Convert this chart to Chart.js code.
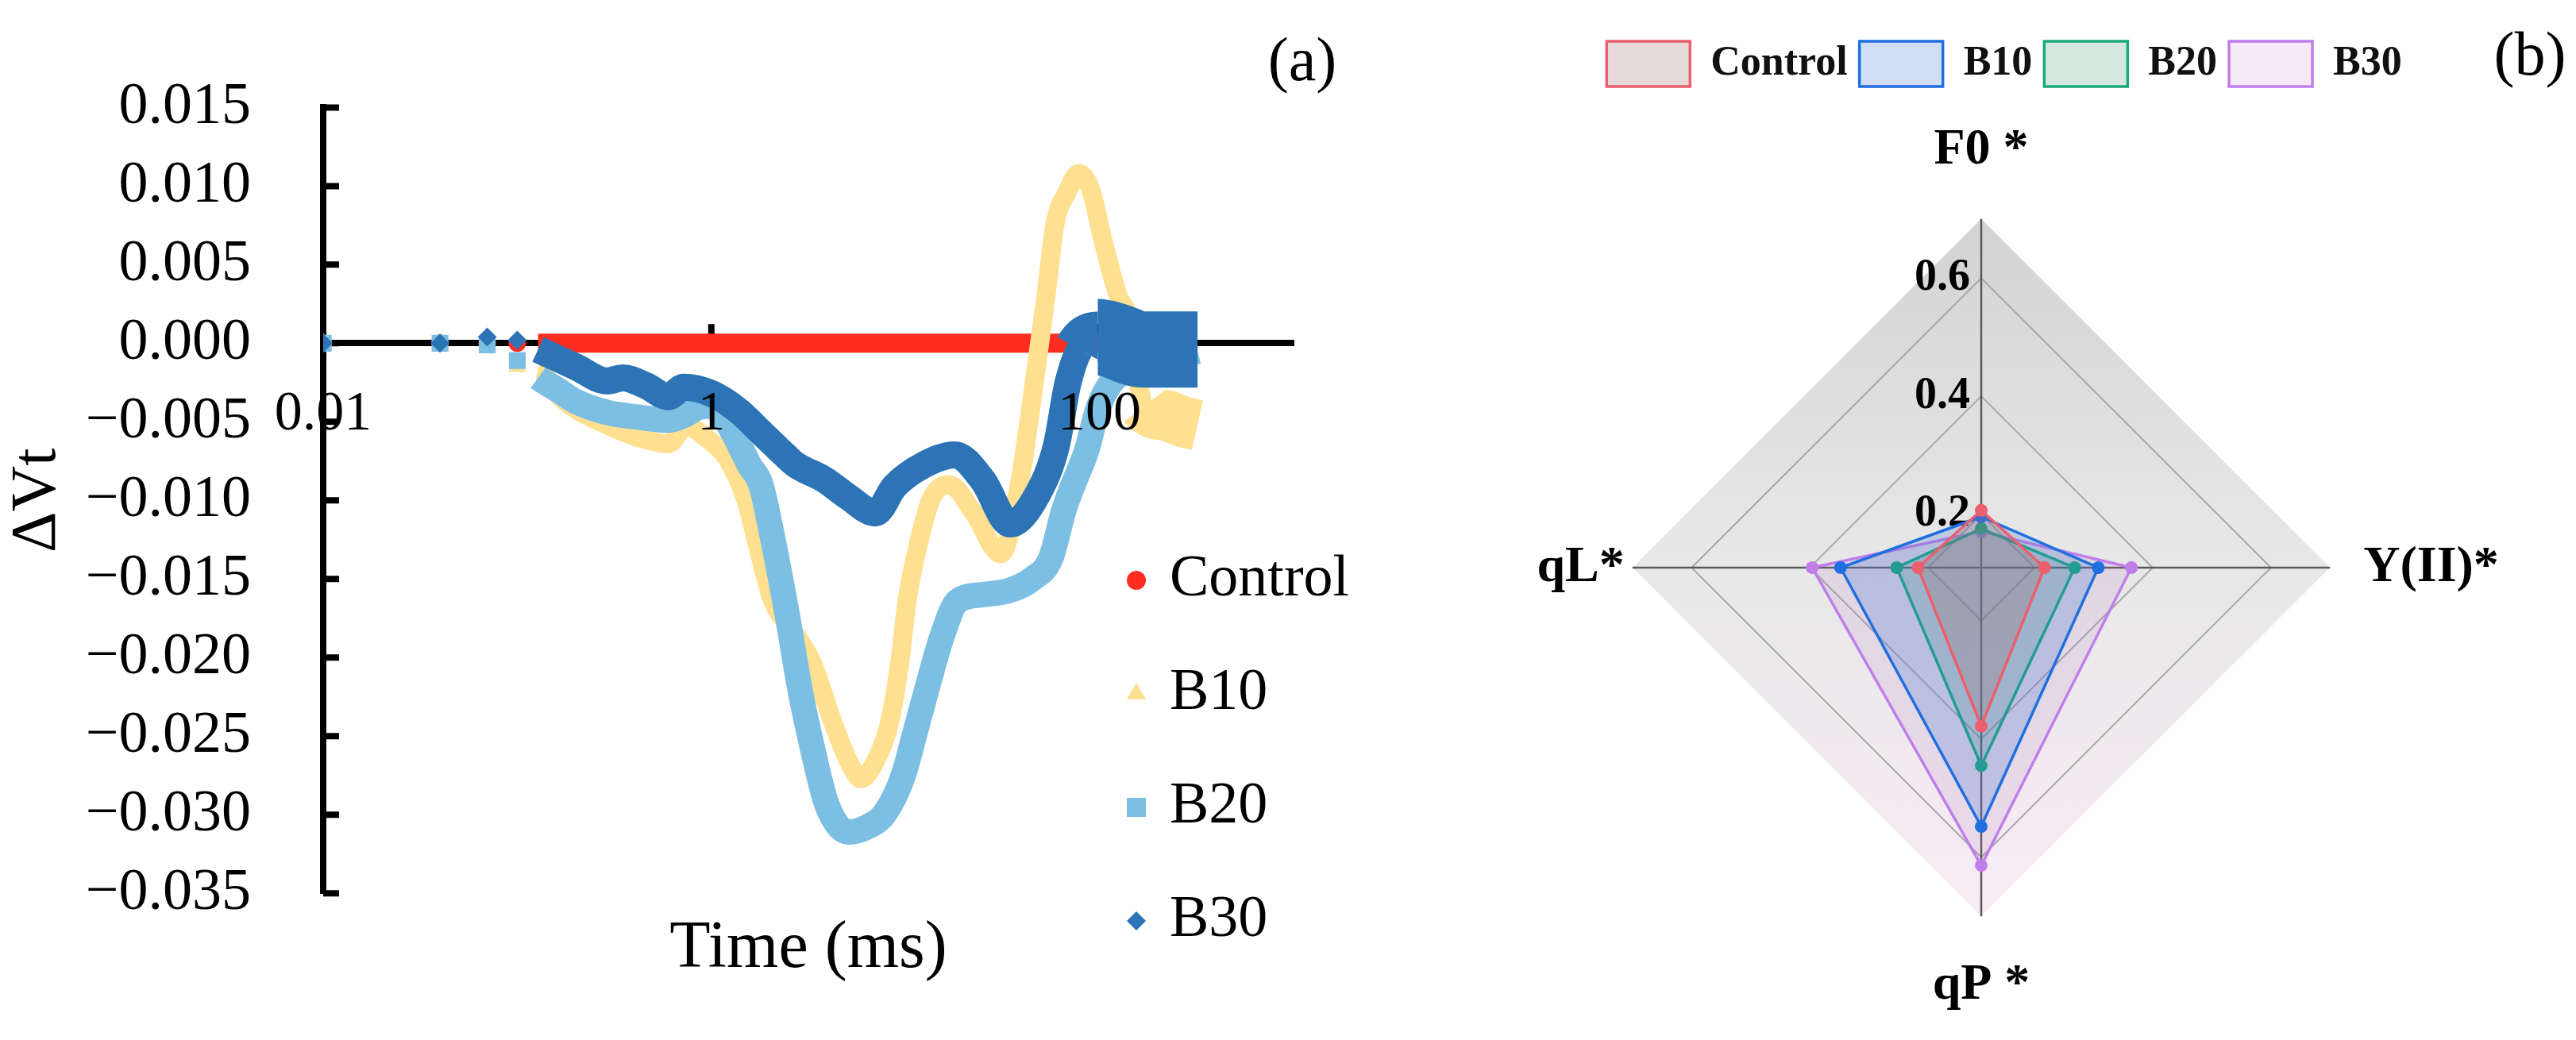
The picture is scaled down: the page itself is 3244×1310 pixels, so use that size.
<!DOCTYPE html>
<html>
<head>
<meta charset="utf-8">
<script src="https://cdn.jsdelivr.net/npm/chart.js"></script>
<style>
  html, body { margin: 0; padding: 0; background: #fff; overflow: hidden; }
  #wrap { position: relative; width: 3244px; height: 1310px; }
  canvas { position: absolute; top: 0; }
  #chartA { left: 0; }
  #chartB { left: 1804px; }
  .panel { position: absolute; font-family: 'Liberation Serif', 'Times New Roman', serif; font-size: 78px; line-height: 1; transform: translate(-50%, -50%); }
</style>
</head>
<body>
<div id="wrap">
  <canvas id="chartA" width="1760" height="1310"></canvas>
  <canvas id="chartB" width="1440" height="1310"></canvas>
  <div class="panel" style="left:1640px; top:75px;">(a)</div>
  <div class="panel" style="left:3186px; top:68px;">(b)</div>
</div>
<script>
Chart.defaults.font.family = "'Liberation Serif', 'Times New Roman', serif";
Chart.defaults.color = '#000';

// ---- (a) delta Vt curves, time in ms ----
const seriesNames = ['Control', 'B10', 'B20', 'B30'];

const controlTime = [0.01, 0.04, 0.07, 0.1, 0.128, 0.2, 0.5, 1, 2, 5, 10, 20, 50, 100, 200, 320];
const controlVt   = [0, 0, 0, 0, 0, 0, 0, 0, 0, 0, 0, 0, 0, 0, 0, 0];

const b10Time = [0.01, 0.04, 0.07, 0.1, 0.128, 0.163, 0.2, 0.29, 0.42, 0.6, 0.74, 0.98, 1.2, 1.5, 1.7, 2.07, 2.6,
                 3.3, 4.25, 5.1, 5.9, 7.0, 8.4, 9.4, 10.2, 11.7, 13.6, 16.8, 22.5, 31, 38.5, 46, 53, 59, 68, 78, 90,
                 104, 125, 140, 170, 220, 270, 320];
const b10Vt   = [0, 0, 0, -0.0015, -0.0016, -0.0033, -0.0042, -0.0052, -0.0060, -0.0064, -0.0053, -0.0062, -0.0073,
                 -0.0099, -0.0125, -0.0164, -0.0182, -0.0203, -0.0242, -0.0266, -0.0277, -0.0266, -0.0238, -0.0201,
                 -0.0164, -0.0127, -0.0099, -0.0090, -0.0108, -0.0134, -0.0091, -0.0026, 0.0030, 0.0076, 0.0096,
                 0.0108, 0.0098, 0.0066, 0.0030, 0.0018, -0.0040, -0.0046, -0.0050, -0.0052];

const b20Time = [0.01, 0.04, 0.07, 0.1, 0.128, 0.163, 0.2, 0.29, 0.42, 0.6, 0.72, 0.85, 1.0, 1.2, 1.58, 1.8, 2.07,
                 2.47, 2.86, 3.31, 3.95, 5.1, 6.3, 7.85, 9.75, 11.2, 12.9, 15.5, 18.6, 25, 35, 45, 56, 66, 76, 86,
                 98, 115, 150, 200, 260, 320];
const b20Vt   = [0, 0, -0.0001, -0.0011, -0.0022, -0.0030, -0.0037, -0.0044, -0.0047, -0.0049, -0.0046, -0.0041,
                 -0.0040, -0.0050, -0.0078, -0.0090, -0.0124, -0.0174, -0.0220, -0.0257, -0.0294, -0.0311, -0.0308,
                 -0.0299, -0.0275, -0.0248, -0.0220, -0.0186, -0.0164, -0.0160, -0.0157, -0.0150, -0.0137, -0.0105,
                 -0.0085, -0.0068, -0.0042, -0.0025, -0.0016, -0.0012, -0.0008, -0.0005];

const b30Time = [0.01, 0.04, 0.07, 0.1, 0.128, 0.163, 0.2, 0.29, 0.35, 0.46, 0.6, 0.72, 1.0, 1.38, 1.78, 2.43, 2.7,
                 3.85, 5.1, 7.0, 8.8, 12.2, 18, 25, 34.6, 48, 60, 68.6, 79, 98, 117, 168, 240, 320];
const b30Vt   = [0, 0, 0.0004, 0.0002, -0.0004, -0.0010, -0.0015, -0.0024, -0.0022, -0.0027, -0.0034, -0.0028,
                 -0.0032, -0.0043, -0.0056, -0.0072, -0.0077, -0.0087, -0.0098, -0.0108, -0.0091, -0.0078, -0.0071,
                 -0.0087, -0.0115, -0.0096, -0.0065, -0.0026, -0.0004, 0.0004, 0.0002, -0.0004, -0.0004, -0.0004];

const xTicks = [0.01, 1, 100];
const yTicks = [-0.035, -0.03, -0.025, -0.02, -0.015, -0.01, -0.005, 0, 0.005, 0.01, 0.015];

// ---- (b) radar ----
const radarAxes    = ['F0 *', 'Y(II)*', 'qP *', 'qL*'];
const radarControl = [0.207, 0.217, 0.378, 0.217];
const radarB10     = [0.196, 0.308, 0.548, 0.348];
const radarB20     = [0.176, 0.268, 0.445, 0.253];
const radarB30     = [0.171, 0.364, 0.614, 0.396];
const radarTicks      = [0.11, 0.2, 0.4, 0.6, 0.7];
const radarTickLabels = [0.2, 0.4, 0.6];

const toPoints = (t, v) => t.map((x, i) => ({ x: x, y: v[i] }));

// first few readings are far apart, they show as single markers
const earlyEnd = 0.11;
const early = c => c.raw && c.raw.x < earlyEnd;
const hideEarly = c => (c.p0.parsed.x < earlyEnd ? 'rgba(0,0,0,0)' : undefined);

// late part of the noisy traces is drawn as a wider band
function curve(label, t, v, color, style, radius, width, order, wide) {
  return {
    label: label,
    data: toPoints(t, v),
    order: order,
    borderColor: color,
    backgroundColor: color,
    borderWidth: width,
    borderCapStyle: 'butt',
    borderJoinStyle: 'round',
    cubicInterpolationMode: 'monotone',
    pointStyle: style,
    pointRadius: c => (early(c) ? radius : 0),
    pointBorderWidth: 0,
    segment: {
      borderColor: hideEarly,
      borderWidth: c => {
        if (!wide) return width;
        const x = c.p0.parsed.x;
        let w = width;
        wide.forEach(step => { if (x >= step[0]) w = step[1]; });
        return w;
      }
    }
  };
}

function drawMarker(ctx, style, color, x, y, r) {
  ctx.fillStyle = color;
  ctx.beginPath();
  if (style === 'circle') {
    ctx.arc(x, y, r, 0, Math.PI * 2);
  } else if (style === 'triangle') {
    ctx.moveTo(x, y - r);
    ctx.lineTo(x + r * 0.866, y + r / 2);
    ctx.lineTo(x - r * 0.866, y + r / 2);
  } else if (style === 'rect') {
    ctx.rect(x - r, y - r, 2 * r, 2 * r);
  } else {
    ctx.moveTo(x, y - r);
    ctx.lineTo(x + r, y);
    ctx.lineTo(x, y + r);
    ctx.lineTo(x - r, y);
  }
  ctx.closePath();
  ctx.fill();
}

// excel style tick marks pointing into the plot
const inwardTicks = {
  id: 'inwardTicks',
  beforeDatasetsDraw(chart) {
    const { ctx, scales } = chart;
    const x = scales.xLabels, y = scales.y;
    const y0 = y.getPixelForValue(0);
    ctx.save();
    ctx.strokeStyle = '#000';
    ctx.lineWidth = 8;
    ctx.beginPath();
    y.ticks.forEach(t => {
      const py = y.getPixelForValue(t.value);
      ctx.moveTo(chart.chartArea.left, py);
      ctx.lineTo(chart.chartArea.left + 20, py);
    });
    x.ticks.forEach(t => {
      const px = x.getPixelForValue(t.value);
      ctx.moveTo(px, y0);
      ctx.lineTo(px, y0 - 24);
    });
    ctx.stroke();
    ctx.restore();
  }
};

const legendMarkerSize = { circle: 12, triangle: 14, rect: 12, rectRot: 12 };
const legendA = {
  id: 'legendA',
  afterDraw(chart) {
    const ctx = chart.ctx;
    ctx.save();
    ctx.font = "74px 'Liberation Serif', serif";
    ctx.textBaseline = 'middle';
    seriesNames.forEach((name, i) => {
      const ds = chart.data.datasets.find(d => d.label === name);
      const cy = 731 + i * 143;
      drawMarker(ctx, ds.pointStyle, ds.borderColor, 1431, cy, legendMarkerSize[ds.pointStyle]);
      ctx.fillStyle = '#000';
      ctx.fillText(name, 1473, cy);
    });
    ctx.restore();
  }
};

new Chart(document.getElementById('chartA'), {
  type: 'line',
  data: {
    datasets: [
      curve('Control', controlTime, controlVt, '#FF2D20', 'circle', 11, 24, 4),
      curve('B10', b10Time, b10Vt, '#FFE091', 'triangle', 13, 24, 3, [[160, 64]]),
      curve('B20', b20Time, b20Vt, '#7CBFE3', 'rect', 15, 32, 2),
      curve('B30', b30Time, b30Vt, '#2C74B5', 'rectRot', 12, 34, 1, [[79, 64], [98, 96]])
    ]
  },
  options: {
    responsive: false,
    animation: false,
    events: [],
    layout: { padding: { top: 92, right: 131, bottom: 54, left: 0 } },
    plugins: {
      legend: { display: false },
      tooltip: { enabled: false },
      title: {
        display: true,
        text: 'Time (ms)',
        position: 'bottom',
        fullSize: false,
        color: '#000',
        font: { size: 84, weight: 'normal' },
        padding: { top: 20, bottom: 10 }
      }
    },
    scales: {
      x: {
        type: 'logarithmic',
        min: 0.01,
        max: 1000,
        position: { y: 0 },
        afterBuildTicks: s => { s.ticks = xTicks.map(v => ({ value: v })); },
        ticks: { display: false },
        grid: { display: false, drawTicks: false },
        border: { color: '#000', width: 8 }
      },
      // same axis again, its labels drawn above the curves
      xLabels: {
        type: 'logarithmic',
        axis: 'x',
        min: 0.01,
        max: 1000,
        position: { y: 0 },
        afterBuildTicks: s => { s.ticks = xTicks.map(v => ({ value: v })); },
        ticks: { callback: v => String(v), font: { size: 70 }, padding: 48, maxRotation: 0, autoSkip: false, color: '#000', z: 1 },
        grid: { display: false, drawTicks: false },
        border: { display: false }
      },
      y: {
        type: 'linear',
        min: -0.035,
        max: 0.015,
        afterBuildTicks: s => { s.ticks = yTicks.map(v => ({ value: v })); },
        afterFit: s => { s.width = 407; },
        ticks: {
          callback: v => (v < 0 ? '\u2212' : '') + Math.abs(v).toFixed(3),
          font: { size: 74 },
          padding: 91,
          color: '#000'
        },
        grid: { display: false, drawTicks: false },
        border: { color: '#000', width: 8 },
        title: { display: true, text: 'ΔVt', color: '#000', font: { size: 80 }, padding: { top: 0, bottom: 0 } }
      }
    }
  },
  plugins: [inwardTicks, legendA]
});

// ---- radar ----
const radarLabelGap = [48, 42, 49, 10];

const radarBackground = {
  id: 'radarBackground',
  beforeDraw(chart) {
    const r = chart.scales.r, ctx = chart.ctx;
    const g = ctx.createLinearGradient(0, r.yCenter - r.drawingArea, 0, r.yCenter + r.drawingArea);
    g.addColorStop(0, '#D3D3D3');
    g.addColorStop(0.5, '#E8E8E8');
    g.addColorStop(1, '#F8ECF5');
    ctx.save();
    ctx.beginPath();
    radarAxes.forEach((_, i) => {
      const p = r.getPointPosition(i, r.drawingArea);
      if (i === 0) ctx.moveTo(p.x, p.y); else ctx.lineTo(p.x, p.y);
    });
    ctx.closePath();
    ctx.fillStyle = g;
    ctx.fill();
    ctx.restore();
  }
};

const radarTickText = {
  id: 'radarTickText',
  beforeDatasetsDraw(chart) {
    const r = chart.scales.r, ctx = chart.ctx;
    ctx.save();
    ctx.font = "bold 56px 'Liberation Serif', serif";
    ctx.textAlign = 'right';
    ctx.textBaseline = 'middle';
    ctx.fillStyle = '#000';
    radarTickLabels.forEach(v => {
      ctx.fillText(v.toFixed(1), r.xCenter - 14, r.yCenter - r.getDistanceFromCenterForValue(v));
    });
    ctx.restore();
  }
};

// leave a gap between the legend row and the radar
const legendSpacer = {
  id: 'legendSpacer',
  beforeLayout(chart) {
    const lg = chart.legend;
    if (!lg || lg._spaced) return;
    const fit = lg.fit;
    lg.fit = function () { fit.call(this); this.height += 32; };
    lg._spaced = true;
  }
};

new Chart(document.getElementById('chartB'), {
  type: 'radar',
  data: {
    labels: radarAxes,
    datasets: [
      { label: 'Control', data: radarControl, borderColor: '#EC5F6E', backgroundColor: 'rgba(155,107,107,0.25)', pointBackgroundColor: '#EC5F6E' },
      { label: 'B10', data: radarB10, borderColor: '#1F6FE0', backgroundColor: 'rgba(67,119,211,0.25)', pointBackgroundColor: '#1F6FE0' },
      { label: 'B20', data: radarB20, borderColor: '#19A97B', backgroundColor: 'rgba(40,140,100,0.2)', pointBackgroundColor: '#19A97B' },
      { label: 'B30', data: radarB30, borderColor: '#C07EEA', backgroundColor: 'rgba(175,115,188,0.15)', pointBackgroundColor: '#C07EEA' }
    ]
  },
  options: {
    responsive: false,
    animation: false,
    events: [],
    layout: { padding: { top: 37, bottom: 29 } },
    elements: {
      line: { borderWidth: 3.5 },
      point: { radius: 8, borderWidth: 0 }
    },
    plugins: {
      tooltip: { enabled: false },
      legend: {
        position: 'top',
        labels: { font: { size: 52, weight: 'bold' }, boxWidth: 105, boxHeight: 57, padding: 15, color: '#111' }
      }
    },
    scales: {
      r: {
        min: 0.11,
        max: 0.7,
        afterBuildTicks: s => { s.ticks = radarTicks.map(v => ({ value: v })); },
        ticks: { display: false },
        grid: { color: c => (c.tick && c.tick.value >= 0.7 ? 'rgba(0,0,0,0)' : '#A9A9A9'), lineWidth: 2 },
        angleLines: { color: '#5A5A5A', lineWidth: 2.5 },
        pointLabels: { font: { size: 64, weight: 'bold' }, color: '#000', padding: c => radarLabelGap[c.index] }
      }
    }
  },
  plugins: [radarBackground, radarTickText, legendSpacer]
});
</script>
</body>
</html>
